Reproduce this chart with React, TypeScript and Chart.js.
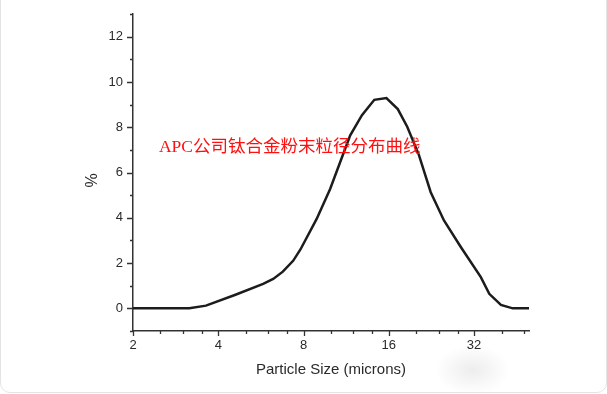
import React, { useEffect, useRef } from "react";
import { Chart, registerables } from "chart.js";

Chart.register(...registerables);

// Particle size (microns) and volume percent
const sizes = [2, 3.16, 3.62, 4.6, 5.76, 6.25, 6.76, 7.35, 7.8, 8.9, 9.93, 10.77, 11.69, 12.86, 14.22, 15.69, 17.21, 18.58, 20.44, 22.49, 25.05, 28.72, 33.8, 36.2, 39.8, 43.8, 50];
const percents = [0, 0, 0.12, 0.6, 1.08, 1.3, 1.62, 2.1, 2.6, 3.95, 5.27, 6.45, 7.64, 8.53, 9.21, 9.29, 8.8, 8.02, 6.77, 5.13, 3.88, 2.71, 1.38, 0.64, 0.15, 0, 0];

const xTicks = [2, 2.5, 3, 3.5, 4, 5, 6, 7, 8, 10, 12, 14, 16, 20, 24, 28, 32, 40, 48];
const xMajor = [2, 4, 8, 16, 32];
const yTicks = [-1, 0, 1, 2, 3, 4, 5, 6, 7, 8, 9, 10, 11, 12, 13];
const yMajor = [0, 2, 4, 6, 8, 10, 12];

const annotationText = "APC公司钛合金粉末粒径分布曲线";
const annotationAt = { x: 2.47, y: 7.1 };
const xTitle = "Particle Size (microns)";
const yTitle = "%";

const FONT = "'Liberation Sans', Arial, Helvetica, sans-serif";
const INK = "#2a2a2a";

const tickPlugin = {
  id: "customTicks",
  afterDraw(chart: any) {
    const ctx = chart.ctx;
    const xs = chart.scales.x;
    const ys = chart.scales.y;
    const area = chart.chartArea;
    ctx.save();
    ctx.strokeStyle = "#333";
    ctx.lineWidth = 1.3;
    ctx.beginPath();
    for (const v of yTicks) {
      const py = Math.round(ys.getPixelForValue(v)) + 0.5;
      const len = yMajor.includes(v) ? 6 : 3;
      ctx.moveTo(area.left, py);
      ctx.lineTo(area.left - len, py);
    }
    for (const v of xTicks) {
      const px = Math.round(xs.getPixelForValue(v)) + 0.5;
      const len = xMajor.includes(v) ? 5 : 3;
      ctx.moveTo(px, area.bottom);
      ctx.lineTo(px, area.bottom + len);
    }
    ctx.stroke();

    // y axis title, rotated
    ctx.save();
    ctx.translate(area.left - 40, (area.top + area.bottom) / 2 + 8);
    ctx.rotate(-Math.PI / 2);
    ctx.fillStyle = INK;
    ctx.font = "16px " + FONT;
    ctx.textAlign = "center";
    ctx.textBaseline = "middle";
    ctx.fillText(yTitle, 0, 0);
    ctx.restore();

    // annotation
    ctx.fillStyle = "#ff1010";
    ctx.font = "17.5px 'Liberation Serif', 'Noto Sans CJK SC', serif";
    ctx.textBaseline = "middle";
    ctx.textAlign = "left";
    ctx.fillText(annotationText, xs.getPixelForValue(annotationAt.x), ys.getPixelForValue(annotationAt.y));
    ctx.restore();
  },
};

export default function App() {
  const ref = useRef<HTMLCanvasElement | null>(null);
  useEffect(() => {
    document.body.style.margin = "0";
    const canvas = ref.current!;
    const chart = new Chart(canvas, {
      type: "line",
      data: {
        datasets: [
          {
            data: sizes.map((s, i) => ({ x: s, y: percents[i] })),
            borderColor: "#1c1c1c",
            borderWidth: 2.5,
            pointRadius: 0,
            tension: 0,
            fill: false,
          },
        ],
      },
      options: {
        animation: false,
        responsive: false,
        devicePixelRatio: 1,
        layout: { padding: { left: 0, top: 14, right: 78, bottom: 0 } },
        plugins: { legend: { display: false }, tooltip: { enabled: false } },
        scales: {
          x: {
            type: "logarithmic",
            min: 2,
            max: 50,
            afterBuildTicks: (scale: any) => {
              scale.ticks = xTicks.map((v) => ({ value: v }));
            },
            afterFit: (scale: any) => {
              scale.height = 63;
            },
            ticks: {
              autoSkip: false,
              maxRotation: 0,
              padding: 1,
              color: INK,
              font: { family: FONT, size: 13 },
              callback: (v: any) => (xMajor.includes(Number(v)) ? String(v) : ""),
            },
            grid: { display: true, drawOnChartArea: false, tickLength: 6, tickColor: "transparent" },
            border: { display: true, color: "#333", width: 1.5 },
            title: {
              display: true,
              text: xTitle,
              color: INK,
              font: { family: FONT, size: 15 },
              padding: { top: 0, bottom: 15 },
            },
          },
          y: {
            type: "linear",
            min: -1,
            max: 13,
            afterBuildTicks: (scale: any) => {
              scale.ticks = yTicks.map((v) => ({ value: v }));
            },
            afterFit: (scale: any) => {
              scale.width = 133;
            },
            ticks: {
              autoSkip: false,
              padding: 4,
              color: INK,
              font: { family: FONT, size: 13 },
              callback: (v: any) => (yMajor.includes(Number(v)) ? String(v) : ""),
            },
            grid: { display: true, drawOnChartArea: false, tickLength: 6, tickColor: "transparent" },
            border: { display: true, color: "#333", width: 1.5 },
            title: { display: false },
          },
        },
      },
      plugins: [tickPlugin],
    } as any);
    return () => chart.destroy();
  }, []);

  return (
    <div style={{ position: "relative", width: 607, height: 394, overflow: "hidden", background: "#fff" }}>
      <canvas ref={ref} width={607} height={394} style={{ width: 607, height: 394, display: "block" }} />
      <div
        style={{
          position: "absolute",
          left: 435,
          top: 345,
          width: 75,
          height: 50,
          borderRadius: "50%",
          background: "radial-gradient(ellipse at center, rgba(0,0,0,0.07) 0%, rgba(0,0,0,0) 70%)",
          pointerEvents: "none",
        }}
      />
      <div
        style={{
          position: "absolute",
          left: 0,
          top: -20,
          width: 607,
          height: 413,
          boxSizing: "border-box",
          border: "1px solid #e4e4e4",
          borderRadius: 10,
          pointerEvents: "none",
        }}
      />
    </div>
  );
}
